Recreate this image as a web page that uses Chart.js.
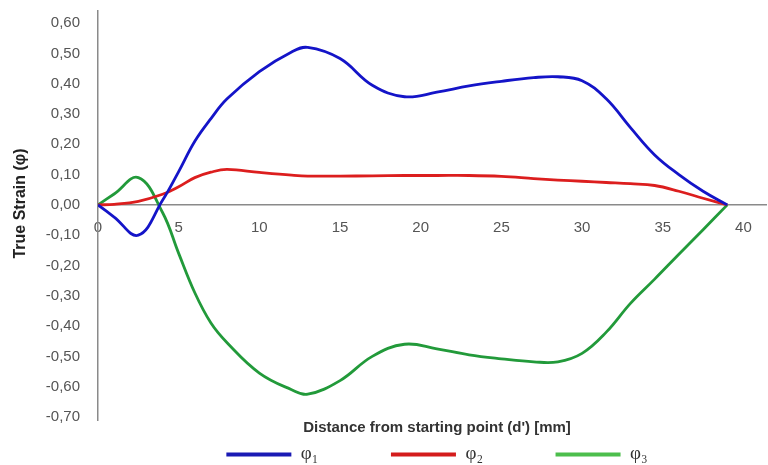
<!DOCTYPE html>
<html>
<head>
<meta charset="utf-8">
<script src="https://cdn.jsdelivr.net/npm/chart.js@4"></script>
<style>
  html, body { margin: 0; padding: 0; background: #fff; }
  #wrap { width: 768px; height: 465px; }
</style>
</head>
<body>
<div id="wrap"><canvas id="strainChart"></canvas></div>
<script>
// Distance from starting point [mm]
const distance = [0, 1, 2.5, 4, 5, 6, 7, 8, 10, 12, 13, 15, 17, 19, 21, 23, 25, 27, 28.5, 30, 31.5, 33, 34.5, 36, 37.5, 39];

// True strain values
const phi1 = [0, -0.04, -0.10, 0.015, 0.11, 0.21, 0.285, 0.35, 0.44, 0.505, 0.52, 0.483, 0.395, 0.357, 0.372, 0.393, 0.408, 0.42, 0.423, 0.41, 0.35, 0.255, 0.165, 0.10, 0.045, 0];
const phi2 = [0, 0.002, 0.012, 0.035, 0.06, 0.09, 0.108, 0.117, 0.107, 0.098, 0.095, 0.095, 0.096, 0.097, 0.097, 0.097, 0.094, 0.087, 0.082, 0.078, 0.074, 0.07, 0.064, 0.045, 0.022, 0];
const phi3 = [0, 0.036, 0.09, -0.025, -0.16, -0.29, -0.39, -0.455, -0.555, -0.61, -0.625, -0.58, -0.50, -0.46, -0.475, -0.495, -0.508, -0.518, -0.518, -0.49, -0.42, -0.325, -0.245, -0.163, -0.082, 0];

const seriesNames = ['φ₁', 'φ₂', 'φ₃'];
const xTicks = [0, 5, 10, 15, 20, 25, 30, 35, 40];
const yTicks = [0.6, 0.5, 0.4, 0.3, 0.2, 0.1, 0, -0.1, -0.2, -0.3, -0.4, -0.5, -0.6, -0.7];

const lineColors = ['#1414c8', '#dc1e1e', '#229a3a'];
const legendColors = ['#1a1ab4', '#d41c1c', '#4cbe4c'];

function toPoints(values) {
    return distance.map((d, i) => ({ x: d, y: values[i] }));
}

const tickFont = { family: "'Liberation Sans Narrow', 'Liberation Sans', Arial, sans-serif", size: 15 };

// nudge the legend block a little to the right, like the original
const legendShift = {
    id: 'legendShift',
    afterLayout(chart) {
        chart.legend.left += 5;
        chart.legend.right += 5;
    }
};

new Chart(document.getElementById('strainChart'), {
    type: 'line',
    data: {
        datasets: [phi1, phi2, phi3].map((vals, i) => ({
            label: seriesNames[i],
            data: toPoints(vals),
            borderColor: lineColors[i],
            backgroundColor: legendColors[i],
            borderWidth: 2.8,
            pointRadius: 0,
            tension: 0.4,
            fill: false
        }))
    },
    options: {
        responsive: true,
        maintainAspectRatio: false,
        animation: false,
        layout: { padding: { top: 11, right: 2, left: 0, bottom: 0 } },
        scales: {
            x: {
                type: 'linear',
                position: { y: 0 },
                min: 0,
                max: 41.4,
                afterBuildTicks: s => { s.ticks = xTicks.map(v => ({ value: v })); },
                grid: { display: false },
                border: { color: '#8a8a8a', width: 1.5 },
                ticks: {
                    autoSkip: false,
                    maxRotation: 0,
                    padding: 6,
                    color: '#555',
                    font: tickFont
                }
            },
            y: {
                min: -0.71,
                max: 0.64,
                afterBuildTicks: s => { s.ticks = yTicks.map(v => ({ value: v })); },
                afterFit: s => { s.width = 98; s.paddingTop = 0; s.paddingBottom = 0; },
                grid: { display: false },
                border: { color: '#8a8a8a', width: 1.5 },
                ticks: {
                    padding: 10,
                    color: '#555',
                    font: tickFont,
                    callback: v => v.toFixed(2).replace('.', ',')
                },
                title: {
                    display: true,
                    text: '\u2003\u2002True Strain (φ)',
                    color: '#222',
                    padding: { top: 11, bottom: 0 },
                    font: { family: "'Liberation Sans', Arial, sans-serif", size: 16, weight: 'bold' }
                }
            }
        },
        plugins: {
            tooltip: { enabled: false },
            legend: {
                position: 'bottom',
                fullSize: false,
                maxHeight: 45,
                title: {
                    display: true,
                    text: "Distance from starting point (d') [mm]",
                    color: '#333',
                    padding: { top: 0, bottom: 1 },
                    font: { family: "'Liberation Sans', Arial, sans-serif", size: 15, weight: 'bold' }
                },
                labels: {
                    boxWidth: 65,
                    boxHeight: 4,
                    padding: 6,
                    color: '#555',
                    font: { family: "'Liberation Serif', 'DejaVu Serif', serif", size: 19 },
                    generateLabels: chart => chart.data.datasets.map((ds, i) => ({
                        // em spaces widen the gap between legend entries
                        text: ds.label + (i < 2 ? '\u2003\u2003\u2003\u2002' : ''),
                        fillStyle: legendColors[i],
                        strokeStyle: legendColors[i],
                        lineWidth: 0,
                        datasetIndex: i,
                        hidden: false
                    }))
                }
            }
        }
    },
    plugins: [legendShift]
});
</script>
</body>
</html>
